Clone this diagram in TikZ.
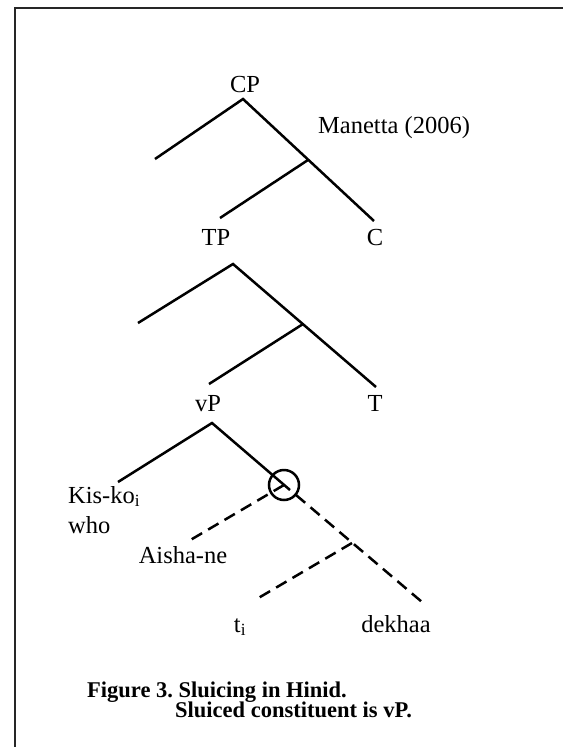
\documentclass[tikz,border=0pt]{standalone}
\usepackage{fontspec}
\setmainfont{Liberation Serif}
\frenchspacing
\begin{document}
\begin{tikzpicture}[x=1pt,y=-1pt,
  lbl/.style={inner sep=0pt,anchor=base,font=\fontsize{24.5}{28}\selectfont},
  lblw/.style={inner sep=0pt,anchor=base west,font=\fontsize{24.5}{28}\selectfont},
  captxt/.style={inner sep=0pt,anchor=base west,font=\fontsize{22.5}{26}\selectfont\bfseries},
  branch/.style={line width=2.5pt},
  dbranch/.style={line width=2.5pt,dash pattern=on 12pt off 7pt},
  framestyle/.style={line width=2.2pt,black!85}]
\useasboundingbox (0,0) rectangle (563,747);
% frame
\coordinate (fbl) at (15,747);
\coordinate (ftl) at (15,8);
\coordinate (ftr) at (563,8);
\draw[framestyle] (fbl) -- (ftl) -- (ftr);
% labels
\node[lbl] (cp) at (245,92) {CP};
\node[lblw] (man) at (318,133) {Manetta (2006)};
\node[lbl] (tp) at (216,245) {TP};
\node[lbl] (c) at (375,245) {C};
\node[lbl] (vp) at (208,411) {vP};
\node[lbl] (t) at (375,411) {T};
\node[lblw] (kis) at (68,503) {Kis-ko\textsubscript{i}};
\node[lblw] (who) at (68,533) {who};
\node[lbl] (aisha) at (183,563) {Aisha-ne};
\node[lbl] (ti) at (240,632) {t\textsubscript{i}};
\node[lbl] (dekhaa) at (396,632) {dekhaa};
\node[captxt] (cap1) at (87,697) {Figure 3. Sluicing in Hinid.};
\node[captxt] (cap2) at (175,717) {Sluiced constituent is vP.};
% CP tree
\coordinate (cpa) at (243,99);
\coordinate (cpl) at (155,159);
\coordinate (cpr) at (374,221);
\coordinate (j1) at (308,160);
\coordinate (j1l) at (220,218);
\draw[branch] (cpl) -- (cpa) -- (cpr);
\draw[branch] (j1) -- (j1l);
% TP tree
\coordinate (tpa) at (233,264);
\coordinate (tpl) at (138,323);
\coordinate (tpr) at (376,387);
\coordinate (j2) at (303,324);
\coordinate (j2l) at (209,384);
\draw[branch] (tpl) -- (tpa) -- (tpr);
\draw[branch] (j2) -- (j2l);
% vP tree
\coordinate (vpa) at (212,423);
\coordinate (vpl) at (118,482);
\coordinate (j3) at (284,485);
\coordinate (j3x) at (290,490);
\coordinate (j3y) at (296,495);
\coordinate (vpr) at (422,602);
\coordinate (j4) at (352,543);
\coordinate (j3l) at (187,542);
\coordinate (j4l) at (255,600);
\draw[branch] (vpl) -- (vpa) -- (j3x);
\draw[dbranch] (j3y) -- (vpr);
\draw[dbranch] (j3) -- (j3l);
\draw[dbranch] (j4) -- (j4l);
\node[draw,circle,line width=2.5pt,minimum size=30pt,inner sep=0pt] (circ) at (j3) {};
\end{tikzpicture}
\end{document}
